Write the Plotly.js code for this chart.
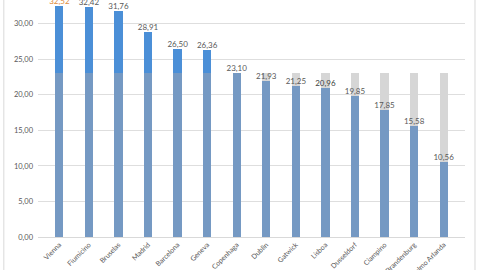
<!DOCTYPE html>
<html><head><meta charset="utf-8">
<script src="https://cdn.plot.ly/plotly-3.0.1.min.js"></script>
<style>html,body{margin:0;padding:0;background:#fff;}#c{width:480px;height:270px;}</style>
</head><body><div id="c"></div>
<script>
const airports = ["Vienna","Fiumicino","Bruselas","Madrid","Barcelona","Geneva","Copenhaga","Dublin","Gatwick","Lisboa","Dusseldorf","Ciampino","Brandenburg","Estocolmo Arlanda"];
const values = [32.52,32.42,31.76,28.91,26.50,26.36,23.10,21.93,21.25,20.96,19.85,17.85,15.58,10.56];
const reference = 23.10;
const labels = values.map(v => v.toFixed(2).replace('.', ','));

const base = values.map(v => Math.min(v, reference));
const above = values.map(v => Math.max(v - reference, 0));
const gap = values.map(v => Math.max(reference - v, 0));

const traces = [
  {type:'bar', x:airports, y:base, marker:{color:'#7599c3'}, hoverinfo:'skip'},
  {type:'bar', x:airports, y:above, marker:{color:'#4b8fd7'}, hoverinfo:'skip'},
  {type:'bar', x:airports, y:gap, marker:{color:'#d6d6d6'}, hoverinfo:'skip'},
  {type:'scatter', mode:'text', x:airports, y:values, text:labels, textposition:'top center',
   cliponaxis:false,
   textfont:{family:'Lato, sans-serif', size:8, color:airports.map((a,i)=> i===0 ? '#e08a3a' : (a==='Lisboa' ? '#404040' : '#595959'))},
   hoverinfo:'skip'}
];

const layout = {
  width:480, height:270, barmode:'stack', bargap:0.72, showlegend:false,
  margin:{l:38, r:15, t:0, b:33},
  paper_bgcolor:'#fff', plot_bgcolor:'#fff',
  font:{family:'Lato, sans-serif', color:'#595959', size:7},
  separators:',.',
  xaxis:{type:'category', tickangle:-45, automargin:false, showgrid:false,
         showline:true, linecolor:'#d9d9d9', linewidth:1, ticks:'',
         tickfont:{size:7, color:'#595959'}},
  yaxis:{range:[0,33.35], dtick:5, tickformat:'.2f', showgrid:true, gridcolor:'#dedede',
         zeroline:false, automargin:false, ticks:'', tickfont:{size:7.5, color:'#595959'},
         ticklabelstandoff:4},
  shapes:[
    {type:'line', xref:'paper', yref:'paper', x0:-0.08, x1:-0.08, y0:-0.2, y1:1.01, line:{color:'#d9d9d9', width:1}},
    {type:'line', xref:'paper', yref:'paper', x0:1.0234, x1:1.0234, y0:-0.2, y1:1.01, line:{color:'#d9d9d9', width:1}}
  ]
};
Plotly.newPlot('c', traces, layout, {staticPlot:true, displayModeBar:false});
</script></body></html>
